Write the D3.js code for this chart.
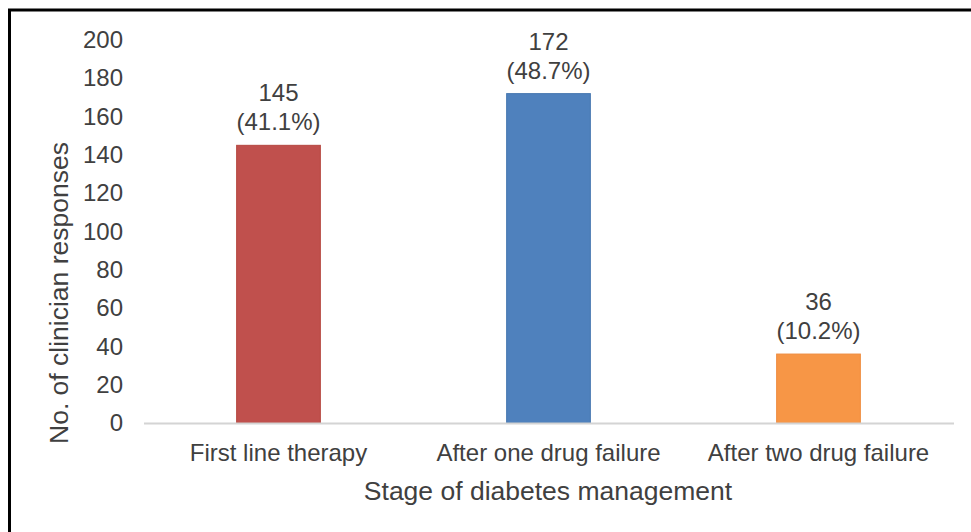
<!DOCTYPE html>
<html>
<head>
<meta charset="utf-8">
<script src="https://cdn.jsdelivr.net/npm/d3@7"></script>
<style>
  html, body { margin: 0; padding: 0; background: #fff; }
  svg { display: block; }
  text { font-family: "Liberation Sans", Arial, sans-serif; fill: #404040; }
</style>
</head>
<body>
<svg id="chart" width="971" height="532"></svg>
<script>
const categories = ["First line therapy", "After one drug failure", "After two drug failure"];
const counts = [145, 172, 36];
const percents = ["41.1%", "48.7%", "10.2%"];
const colors = ["#C0504D", "#4F81BD", "#F79646"];
const strokeColors = ["#B5473F", "#4677B0", "#EE8B3E"];
const yTicks = [0, 20, 40, 60, 80, 100, 120, 140, 160, 180, 200];

const svg = d3.select("#chart");

// outer frame (extends past right and bottom edges as in reference)
svg.append("rect")
  .attr("x", 9.5).attr("y", 10)
  .attr("width", 1000).attr("height", 600)
  .attr("fill", "none").attr("stroke", "#000").attr("stroke-width", 3);

const x = d3.scaleBand().domain(categories).range([143.5, 953.5]).paddingInner(0.69).paddingOuter(0.345);
const y = d3.scaleLinear().domain([0, 200]).range([423, 40]);

// y tick labels
const yAxis = d3.axisLeft(y).tickValues(yTicks).tickSize(0).tickPadding(0);
const gy = svg.append("g").attr("transform", "translate(123,0)").call(yAxis);
gy.select(".domain").remove();
gy.selectAll("text")
  .style("font-family", '"Liberation Sans", Arial, sans-serif')
  .style("font-size", "24px")
  .attr("fill", "#404040");

// bars
svg.selectAll("rect.bar")
  .data(categories)
  .enter().append("rect")
  .attr("class", "bar")
  .attr("x", d => x(d))
  .attr("width", x.bandwidth())
  .attr("y", (d, i) => y(counts[i]))
  .attr("height", (d, i) => y(0) - y(counts[i]))
  .attr("fill", (d, i) => colors[i])
  .attr("stroke", (d, i) => strokeColors[i])
  .attr("stroke-width", 1);

// baseline / x axis
const xAxis = d3.axisBottom(x).tickSize(0).tickPadding(0);
const gx = svg.append("g").attr("transform", `translate(0,${y(0)})`).call(xAxis);
gx.select(".domain").attr("stroke", "#d4d4d4").attr("stroke-width", 2);
gx.selectAll("text")
  .attr("y", 38)
  .attr("dy", 0)
  .style("font-family", '"Liberation Sans", Arial, sans-serif')
  .style("font-size", "24px")
  .attr("fill", "#404040");

// data labels
const labels = svg.selectAll("g.lbl").data(categories).enter().append("g").attr("class", "lbl");
labels.append("text")
  .attr("x", d => x(d) + x.bandwidth() / 2)
  .attr("y", (d, i) => y(counts[i]) - 44)
  .attr("text-anchor", "middle")
  .style("font-size", "24px")
  .text((d, i) => counts[i]);
labels.append("text")
  .attr("x", d => x(d) + x.bandwidth() / 2)
  .attr("y", (d, i) => y(counts[i]) - 15)
  .attr("text-anchor", "middle")
  .style("font-size", "24px")
  .text((d, i) => "(" + percents[i] + ")");

// axis titles
svg.append("text")
  .attr("x", 548).attr("y", 500)
  .attr("text-anchor", "middle")
  .style("font-size", "26.5px")
  .text("Stage of diabetes management");

svg.append("text")
  .attr("transform", "translate(68,293) rotate(-90)")
  .attr("text-anchor", "middle")
  .style("font-size", "26.5px")
  .text("No. of clinician responses");
</script>
</body>
</html>
